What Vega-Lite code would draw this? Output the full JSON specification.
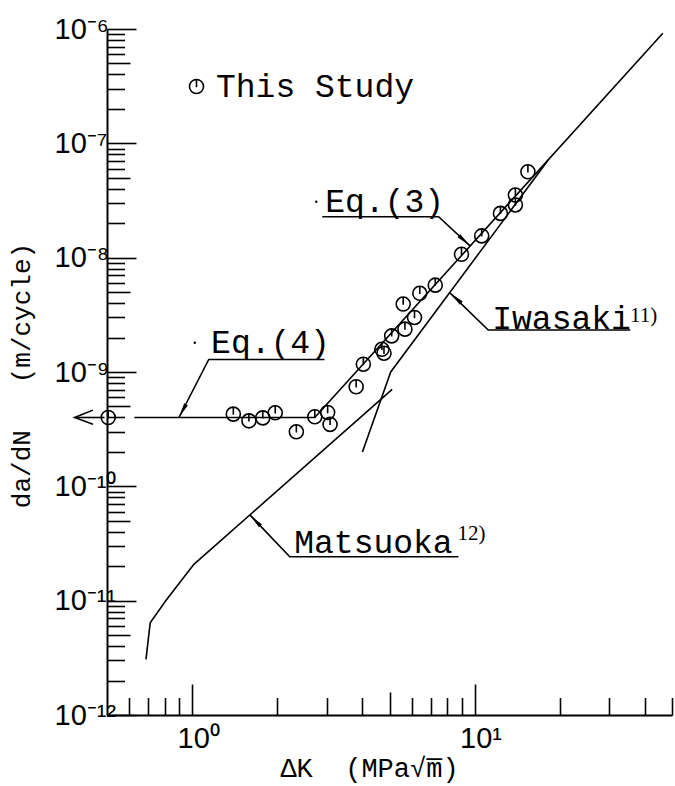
{
  "$schema": "https://vega.github.io/schema/vega-lite/v6.json",
  "width": 565,
  "height": 686,
  "autosize": {"type": "none"},
  "padding": {"left": 107, "top": 29, "right": 3, "bottom": 71},
  "background": "white",
  "config": {
    "view": {"stroke": null},
    "legend": {
      "orient": "none", "legendX": 73, "legendY": 41, "padding": 0,
      "symbolType": "M-1,0 A1,1 0 1,0 1,0 A1,1 0 1,0 -1,0 M0,-1 L0,0.1",
      "symbolSize": 196, "symbolStrokeWidth": 1.6, "symbolStrokeColor": "black",
      "labelFont": "Liberation Mono", "labelFontSize": 33, "labelColor": "black", "labelOffset": 3, "labelLimit": 0
    }
  },
  "datasets": {
    "points": [
      {"x": 0.505, "y": 4.0e-10, "src": "This Study"},
      {"x": 1.40, "y": 4.28e-10, "src": "This Study"},
      {"x": 1.59, "y": 3.74e-10, "src": "This Study"},
      {"x": 1.78, "y": 3.97e-10, "src": "This Study"},
      {"x": 1.97, "y": 4.40e-10, "src": "This Study"},
      {"x": 2.34, "y": 3.0e-10, "src": "This Study"},
      {"x": 2.72, "y": 4.06e-10, "src": "This Study"},
      {"x": 3.02, "y": 4.43e-10, "src": "This Study"},
      {"x": 3.08, "y": 3.48e-10, "src": "This Study"},
      {"x": 3.81, "y": 7.43e-10, "src": "This Study"},
      {"x": 4.04, "y": 1.17e-9, "src": "This Study"},
      {"x": 4.70, "y": 1.58e-9, "src": "This Study"},
      {"x": 4.78, "y": 1.46e-9, "src": "This Study"},
      {"x": 5.09, "y": 2.07e-9, "src": "This Study"},
      {"x": 5.67, "y": 2.37e-9, "src": "This Study"},
      {"x": 6.13, "y": 3.0e-9, "src": "This Study"},
      {"x": 5.59, "y": 3.93e-9, "src": "This Study"},
      {"x": 6.40, "y": 4.88e-9, "src": "This Study"},
      {"x": 7.26, "y": 5.75e-9, "src": "This Study"},
      {"x": 8.99, "y": 1.07e-8, "src": "This Study"},
      {"x": 10.6, "y": 1.55e-8, "src": "This Study"},
      {"x": 12.35, "y": 2.44e-8, "src": "This Study"},
      {"x": 13.95, "y": 3.53e-8, "src": "This Study"},
      {"x": 13.95, "y": 2.89e-8, "src": "This Study"},
      {"x": 15.45, "y": 5.64e-8, "src": "This Study"}
    ],
    "curves": [
      {"series": "Eq", "seq": 1, "x": 0.625, "y": 4.0e-10},
      {"series": "Eq", "seq": 2, "x": 2.72, "y": 4.0e-10},
      {"series": "Eq", "seq": 3, "x": 46.4, "y": 9.17e-7},
      {"series": "Iwasaki", "seq": 1, "x": 4.01, "y": 2.0e-10},
      {"series": "Iwasaki", "seq": 2, "x": 5.05, "y": 1.0e-9},
      {"series": "Iwasaki", "seq": 3, "x": 18.2, "y": 7.1e-8},
      {"series": "Matsuoka", "seq": 1, "x": 0.687, "y": 3.06e-12},
      {"series": "Matsuoka", "seq": 2, "x": 0.711, "y": 6.4e-12},
      {"series": "Matsuoka", "seq": 3, "x": 0.807, "y": 1.0e-11},
      {"series": "Matsuoka", "seq": 4, "x": 1.015, "y": 2.08e-11},
      {"series": "Matsuoka", "seq": 5, "x": 5.11, "y": 7.04e-10},
      {"series": "lead3", "seq": 1, "x": 2.89, "y": 2.28e-8},
      {"series": "lead3", "seq": 2, "x": 7.46, "y": 2.28e-8},
      {"series": "lead3", "seq": 3, "x": 9.64, "y": 1.27e-8},
      {"series": "lead4", "seq": 1, "x": 0.899, "y": 4.0e-10},
      {"series": "lead4", "seq": 2, "x": 1.146, "y": 1.288e-9},
      {"series": "lead4", "seq": 3, "x": 2.944, "y": 1.288e-9},
      {"series": "leadI", "seq": 1, "x": 8.2, "y": 4.9e-9},
      {"series": "leadI", "seq": 2, "x": 11.18, "y": 2.33e-9},
      {"series": "leadI", "seq": 3, "x": 35.6, "y": 2.33e-9},
      {"series": "leadM", "seq": 1, "x": 1.605, "y": 5.6e-11},
      {"series": "leadM", "seq": 2, "x": 2.218, "y": 2.42e-11},
      {"series": "leadM", "seq": 3, "x": 8.77, "y": 2.42e-11},
      {"series": "leftline", "seq": 1, "x": 0.384, "y": 4.0e-10},
      {"series": "leftline", "seq": 2, "x": 0.49, "y": 4.0e-10},
      {"series": "chevron", "seq": 1, "x": 0.446, "y": 4.64e-10},
      {"series": "chevron", "seq": 2, "x": 0.384, "y": 4.0e-10},
      {"series": "chevron", "seq": 3, "x": 0.446, "y": 3.5e-10}
    ],
    "tips": [
      {"name": "Eq3", "x": 9.64, "y": 1.27e-8},
      {"name": "Eq4", "x": 0.899, "y": 4.0e-10},
      {"name": "Iwasaki", "x": 8.2, "y": 4.9e-9},
      {"name": "Matsuoka", "x": 1.605, "y": 5.6e-11}
    ],
    "labels": [
      {"kind": "main", "text": "Eq.(3)", "x": 2.96, "y": 2.5e-8},
      {"kind": "main", "text": "Eq.(4)", "x": 1.168, "y": 1.455e-9},
      {"kind": "main", "text": "Iwasaki", "x": 11.55, "y": 2.40e-9},
      {"kind": "main", "text": "Matsuoka", "x": 2.3, "y": 2.59e-11},
      {"kind": "sup", "text": "11)", "x": 35.5, "y": 2.73e-9},
      {"kind": "sup", "text": "12)", "x": 8.70, "y": 3.38e-11}
    ],
    "specks": [
      {"x": 2.753, "y": 3.08e-8},
      {"x": 1.023, "y": 1.80e-9}
    ]
  },
  "encoding": {
    "x": {
      "field": "x", "type": "quantitative",
      "scale": {"type": "log", "domain": [0.5, 50], "nice": false},
      "axis": {
        "values": [0.6, 0.7, 0.8, 0.9, 1, 2, 3, 4, 5, 6, 7, 8, 9, 10, 20, 30, 40, 50],
        "labelExpr": "datum.value == 1 ? '10⁰' : datum.value == 10 ? '10¹' : ''",
        "tickSize": {"condition": [{"test": "datum.value == 1 || datum.value == 10", "value": -31}, {"test": "datum.value == 5", "value": -23}], "value": -17.5},
        "grid": false,
        "domainColor": "black", "domainWidth": 2,
        "tickColor": "black", "tickWidth": 1.6,
        "labelColor": "black", "labelFont": "Liberation Sans",
        "labelFontSize": 29, "labelAlign": "left", "labelBaseline": "top",
        "labelPadding": 40, "labelOffset": -15,
        "labelOverlap": false, "labelFlush": false, "labelBound": false,
        "title": "ΔK\u00a0\u00a0(MPa√m̅)",
        "titleFont": "Liberation Mono", "titleFontSize": 27, "titleFontWeight": "normal", "titleColor": "black",
        "titleX": 262, "titleY": 53, "titleAlign": "center", "titleBaseline": "middle", "titleAnchor": null
      }
    },
    "y": {
      "field": "y", "type": "quantitative",
      "scale": {"type": "log", "domain": [1e-12, 1e-6], "nice": false},
      "axis": {
        "values": [1e-12, 2e-12, 3e-12, 4e-12, 5e-12, 6e-12, 7e-12, 8e-12, 9e-12,
                   1e-11, 2e-11, 3e-11, 4e-11, 5e-11, 6e-11, 7e-11, 8e-11, 9e-11,
                   1e-10, 2e-10, 3e-10, 4e-10, 5e-10, 6e-10, 7e-10, 8e-10, 9e-10,
                   1e-9, 2e-9, 3e-9, 4e-9, 5e-9, 6e-9, 7e-9, 8e-9, 9e-9,
                   1e-8, 2e-8, 3e-8, 4e-8, 5e-8, 6e-8, 7e-8, 8e-8, 9e-8,
                   1e-7, 2e-7, 3e-7, 4e-7, 5e-7, 6e-7, 7e-7, 8e-7, 9e-7, 1e-6],
        "labelExpr": "datum.value == 1e-6 ? '10⁻⁶' : datum.value == 1e-7 ? '10⁻⁷' : datum.value == 1e-8 ? '10⁻⁸' : datum.value == 1e-9 ? '10⁻⁹' : datum.value == 1e-10 ? '10⁻¹⁰' : datum.value == 1e-11 ? '10⁻¹¹' : datum.value == 1e-12 ? '10⁻¹²' : ''",
        "tickSize": {"condition": [{"test": "indexof([1e-12,1e-11,1e-10,1e-9,1e-8,1e-7,1e-6], datum.value) >= 0", "value": -29}, {"test": "indexof([5e-12,5e-11,5e-10,5e-9,5e-8,5e-7], datum.value) >= 0", "value": -23}], "value": -17.5},
        "grid": false,
        "domainColor": "black", "domainWidth": 2,
        "tickColor": "black", "tickWidth": 1.6,
        "labelColor": "black", "labelFont": "Liberation Sans",
        "labelFontSize": 29, "labelAlign": "left", "labelBaseline": "middle",
        "labelPadding": 82,
        "labelOverlap": false, "labelFlush": false, "labelBound": false,
        "title": "da/dN\u00a0\u00a0\u00a0(m/cycle)",
        "titleFont": "Liberation Mono", "titleFontSize": 26, "titleFontWeight": "normal", "titleColor": "black",
        "titleX": -86, "titleY": 346, "titleAngle": 270, "titleAlign": "center", "titleBaseline": "middle", "titleAnchor": null
      }
    }
  },
  "layer": [
    {
      "data": {"name": "curves"},
      "mark": {"type": "line", "color": "black", "strokeWidth": 1.6},
      "encoding": {"detail": {"field": "series"}, "order": {"field": "seq", "type": "quantitative"}}
    },
    {
      "data": {"name": "points"},
      "mark": {"type": "point", "shape": "M-1,0 A1,1 0 1,0 1,0 A1,1 0 1,0 -1,0 M0,-1 L0,0.1", "filled": false, "size": 196, "strokeWidth": 1.6, "opacity": 1},
      "encoding": {
        "color": {"field": "src", "type": "nominal", "scale": {"range": ["black"]}, "legend": {"title": null}}
      }
    },
    {
      "data": {"name": "tips"},
      "transform": [{"filter": "datum.name == 'Eq3'"}],
      "mark": {"type": "point", "shape": "M0,0 L0.28,2 L-0.28,2 Z", "filled": true, "size": 225, "angle": 132, "color": "black", "opacity": 1}
    },
    {
      "data": {"name": "tips"},
      "transform": [{"filter": "datum.name == 'Eq4'"}],
      "mark": {"type": "point", "shape": "M0,0 L0.28,2 L-0.28,2 Z", "filled": true, "size": 225, "angle": 208, "color": "black", "opacity": 1}
    },
    {
      "data": {"name": "tips"},
      "transform": [{"filter": "datum.name == 'Iwasaki'"}],
      "mark": {"type": "point", "shape": "M0,0 L0.28,2 L-0.28,2 Z", "filled": true, "size": 225, "angle": 312, "color": "black", "opacity": 1}
    },
    {
      "data": {"name": "tips"},
      "transform": [{"filter": "datum.name == 'Matsuoka'"}],
      "mark": {"type": "point", "shape": "M0,0 L0.28,2 L-0.28,2 Z", "filled": true, "size": 225, "angle": 316, "color": "black", "opacity": 1}
    },
    {
      "data": {"name": "labels"},
      "transform": [{"filter": "datum.kind == 'main'"}],
      "mark": {"type": "text", "font": "Liberation Mono", "fontSize": 33, "align": "left", "baseline": "alphabetic", "color": "black"},
      "encoding": {"text": {"field": "text"}}
    },
    {
      "data": {"name": "labels"},
      "transform": [{"filter": "datum.kind == 'sup'"}],
      "mark": {"type": "text", "font": "Liberation Serif", "fontSize": 21, "align": "left", "baseline": "alphabetic", "color": "black"},
      "encoding": {"text": {"field": "text"}}
    },
    {
      "data": {"name": "specks"},
      "mark": {"type": "point", "shape": "circle", "filled": true, "size": 6, "color": "black", "opacity": 1}
    }
  ]
}
